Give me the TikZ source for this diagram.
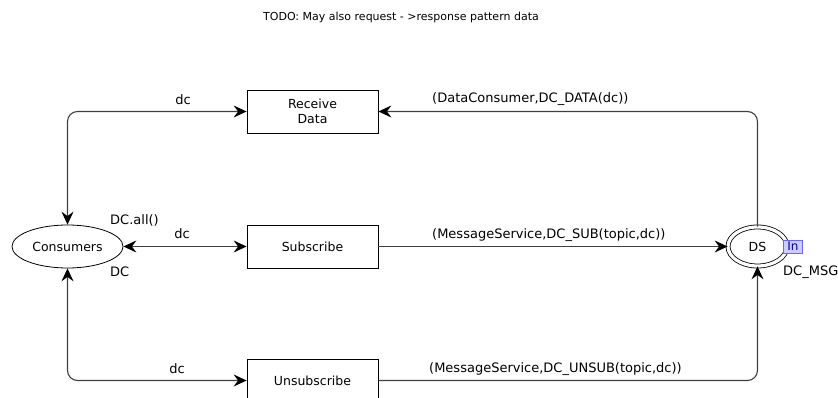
\documentclass[tikz,border=0pt]{standalone}
\usepackage{fontspec}
\setmainfont{DejaVu Sans}
\usetikzlibrary{shapes.geometric,arrows.meta}
\begin{document}
\begin{tikzpicture}[x=1pt,y=-1pt,
  font=\fontsize{13}{15}\selectfont,
  trans/.style={draw,line width=0.8pt,minimum width=131pt,minimum height=43pt,inner sep=0pt,align=center,font=\fontsize{12.5}{15}\selectfont},
  place/.style={draw,ellipse,line width=0.8pt,inner sep=0pt,font=\fontsize{12.5}{15}\selectfont},
  arc/.style={draw=black!75,line width=1.1pt,rounded corners=10pt,-{Stealth[length=13pt,width=12pt,inset=4.5pt,color=black]}},
  barc/.style={arc,{Stealth[length=13pt,width=12pt,inset=4.5pt,color=black]}-{Stealth[length=13pt,width=12pt,inset=4.5pt,color=black]}},
  lbl/.style={inner sep=0pt,anchor=center}]
\useasboundingbox (0,0) rectangle (838,398);
\node[lbl,font=\fontsize{11}{13}\selectfont] (todo) at (401,17) {TODO: May also request - >response pattern data};
\node[place,minimum width=111pt,minimum height=43pt] (cons) at (67.5,246.5) {Consumers};
\node[place,double,double distance=3.2pt,minimum width=59pt,minimum height=39pt] (ds) at (757.5,246.5) {DS};
\node[trans] (recv) at (312.5,111.5) {Receive\\Data};
\node[trans] (sub) at (312.5,246.5) {Subscribe};
\node[trans] (unsub) at (312.5,380.5) {Unsubscribe};
\node[draw=blue!60,fill=blue!20,text=blue!60!black,inner sep=1pt,minimum height=13pt,minimum width=19pt,font=\fontsize{12}{13}\selectfont] (intag) at (793,246.5) {In};
\node[lbl,anchor=west] (dcmsg) at (783,272) {DC\_MSG};
\draw[barc] (cons.north) |- (recv.west);
\draw[arc] (ds.north) |- (recv.east);
\draw[barc] (cons.east) -- (sub.west);
\draw[arc] (sub.east) -- (ds.west);
\draw[barc] (cons.south) |- (unsub.west);
\draw[arc] (unsub.east) -| (ds.south);
\node[lbl] (l1) at (183,100) {dc};
\node[lbl,anchor=west] (l2) at (432,99) {(DataConsumer,DC\_DATA(dc))};
\node[lbl,anchor=west] (l3) at (110,220) {DC.all()};
\node[lbl] (l4) at (182,234) {dc};
\node[lbl,anchor=west] (l5) at (110,272) {DC};
\node[lbl,anchor=west] (l6) at (432,235) {(MessageService,DC\_SUB(topic,dc))};
\node[lbl] (l7) at (177,369) {dc};
\node[lbl,anchor=west] (l8) at (429,369) {(MessageService,DC\_UNSUB(topic,dc))};
\end{tikzpicture}
\end{document}
